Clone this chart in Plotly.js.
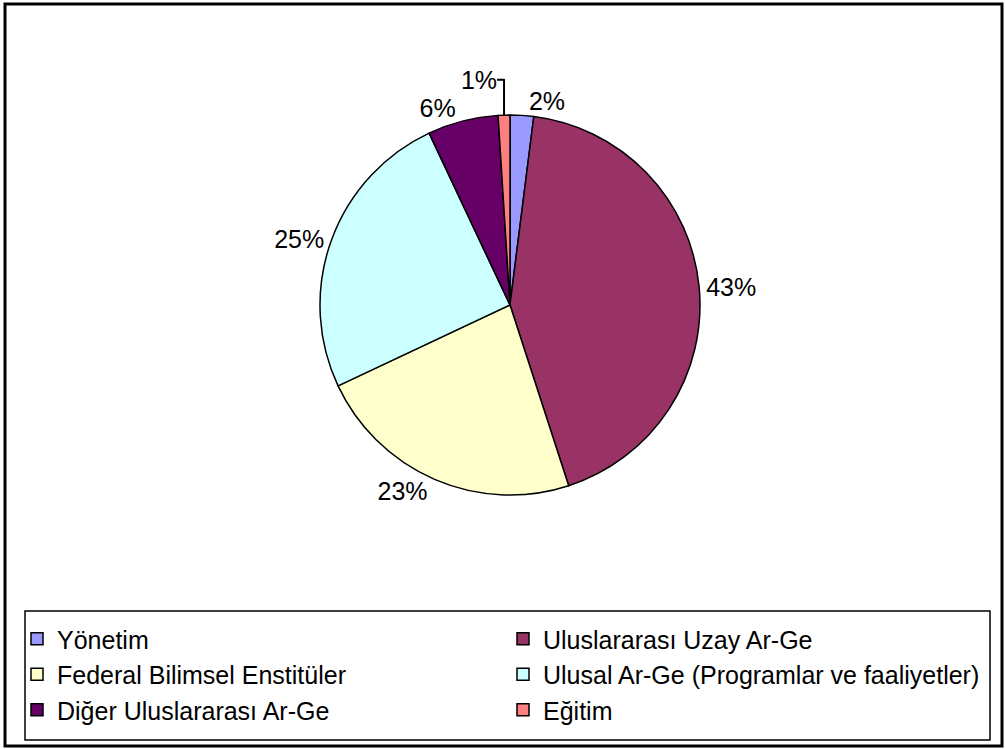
<!DOCTYPE html>
<html>
<head>
<meta charset="utf-8">
<script src="https://cdn.plot.ly/plotly-3.0.1.min.js"></script>
<style>html,body{margin:0;padding:0;background:#fff;}#chart{width:1005px;height:749px;}</style>
</head>
<body>
<div id="chart"></div>
<script>
var categories = ["Yönetim", "Uluslararası Uzay Ar-Ge", "Federal Bilimsel Enstitüler", "Ulusal Ar-Ge (Programlar ve faaliyetler)", "Diğer Uluslararası Ar-Ge", "Eğitim"];
var shares = [2, 43, 23, 25, 6, 1];
var sliceColors = ["#9999FF", "#993366", "#FFFFCC", "#CCFFFF", "#660066", "#FF8080"];

var W = 1005, H = 749;
var cx = 510, cy = 305, r = 190;

var trace = {
  type: "pie",
  labels: categories,
  values: shares,
  sort: false,
  direction: "clockwise",
  rotation: 0,
  marker: {colors: sliceColors, line: {color: "#000000", width: 1.5}},
  textinfo: "percent",
  texttemplate: "%{percent:.0%}",
  textposition: "outside",
  textfont: {family: "Liberation Sans, Arial, sans-serif", size: 25, color: "#000"},
  outsidetextfont: {family: "Liberation Sans, Arial, sans-serif", size: 25, color: "#000"},
  domain: {x: [(cx - r) / W, (cx + r) / W], y: [1 - (cy + r) / H, 1 - (cy - r) / H]},
  hoverinfo: "label+percent",
  automargin: false
};

var layout = {
  width: W, height: H,
  margin: {l: 0, r: 0, t: 0, b: 0, autoexpand: false},
  paper_bgcolor: "#ffffff",
  showlegend: true,
  legend: {
    orientation: "h",
    x: 17 / W, xanchor: "left",
    y: 1 - 616 / H, yanchor: "top",
    entrywidth: 441, entrywidthmode: "pixels",
    font: {family: "Liberation Sans, Arial, sans-serif", size: 25, color: "#000"},
    bgcolor: "rgba(0,0,0,0)",
    borderwidth: 0,
    traceorder: "normal"
  },
  shapes: [
    {type: "rect", xref: "paper", yref: "paper", x0: 5 / W, x1: 1002 / W, y0: 1 - 746 / H, y1: 1 - 4 / H, line: {color: "#000", width: 3}},
    {type: "rect", xref: "paper", yref: "paper", x0: 25 / W, x1: 990 / W, y0: 1 - 740 / H, y1: 1 - 611 / H, line: {color: "#000", width: 1.5}}
  ]
};

Plotly.newPlot("chart", [trace], layout, {displayModeBar: false, staticPlot: true});
</script>
</body>
</html>
